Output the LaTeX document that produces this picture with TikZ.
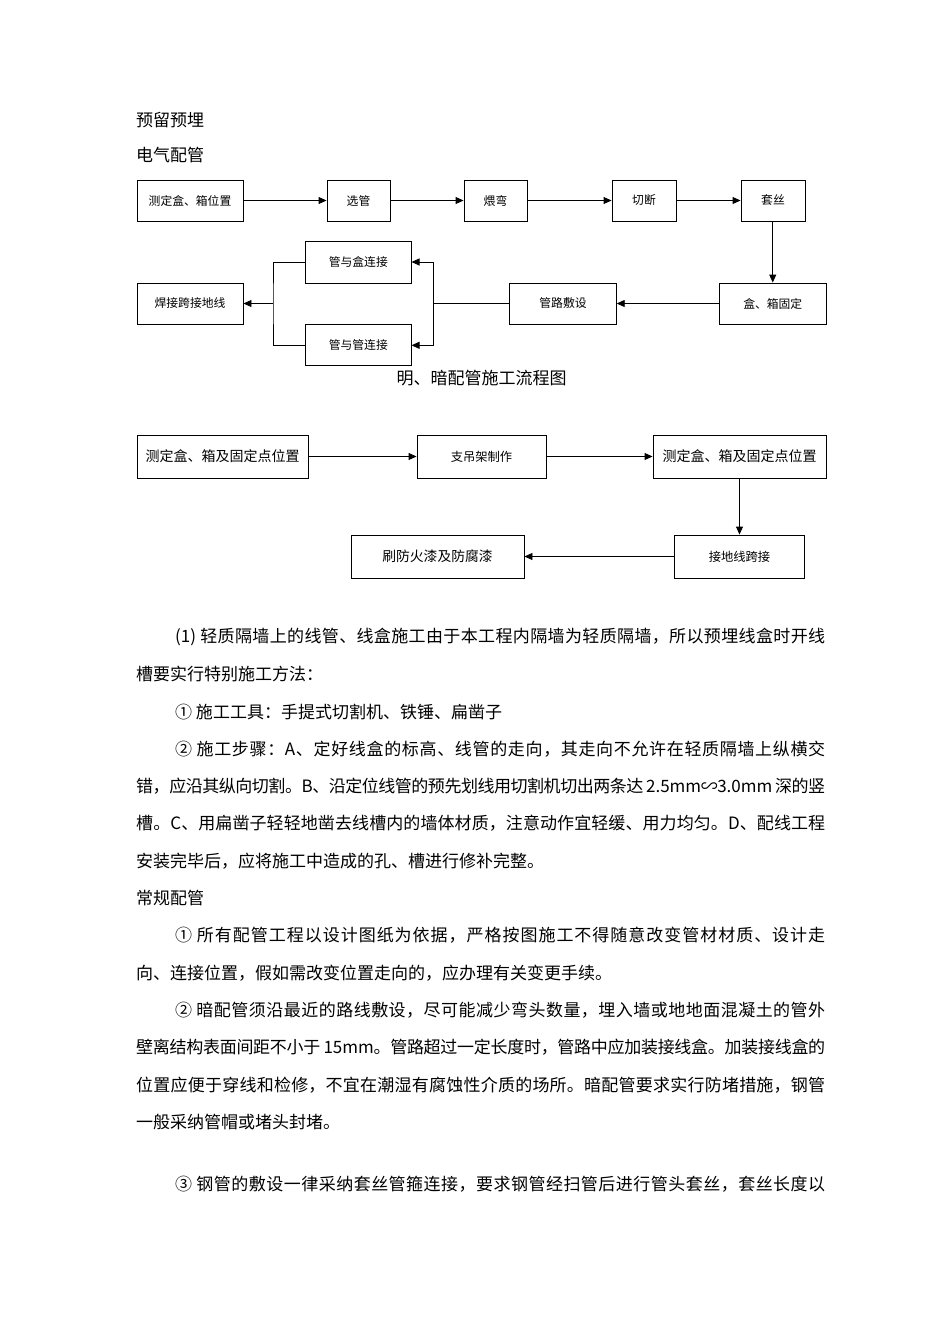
\documentclass[tikz,border=0pt]{standalone}
\usepackage{fontspec}
\setmainfont{Noto Sans CJK SC}
\usetikzlibrary{arrows.meta}
\ExplSyntaxOn
\NewDocumentCommand\spreadline{m}{
  \bool_set_true:N \l_tmpa_bool
  \tl_map_inline:nn {#1}
   {
     \bool_if:NTF \l_tmpa_bool { \bool_set_false:N \l_tmpa_bool } { \hskip 0pt plus 1fil minus 1pt \relax }
     ##1
   }
}
\ExplSyntaxOff
\tikzset{
  body/.style={anchor=west, inner sep=0pt, font=\fontsize{17}{20}\selectfont},
  fbox/.style={draw, line width=0.9pt, inner sep=0pt, minimum height=41pt, font=\fontsize{11.8}{14}\selectfont},
  gbox/.style={draw, line width=0.9pt, inner sep=0pt, minimum height=43pt},
  conn/.style={line width=0.9pt},
  arr/.style={line width=0.9pt, -{Triangle[length=8pt,width=7pt]}},
}
\begin{document}
\begin{tikzpicture}[x=1pt,y=-1pt]
\useasboundingbox[fill=white] (0,0) rectangle (950,1344);

\node[body] (h1) at (136,120) {预留预埋};
\node[body] (h2) at (136,155) {电气配管};

% chart 1
\node[fbox, minimum width=106pt] (A) at (190,200.5) {测定盒、箱位置};
\node[fbox, minimum width=63pt] (B) at (358.5,200.5) {选管};
\node[fbox, minimum width=63pt] (C) at (495.5,200.5) {煨弯};
\node[fbox, minimum width=64pt] (D) at (644,200.5) {切断};
\node[fbox, minimum width=64pt] (E) at (773,200.5) {套丝};
\node[fbox, minimum width=106.5pt] (F) at (772.75,303.5) {盒、箱固定};
\node[fbox, minimum width=106.5pt] (G) at (563,303.5) {管路敷设};
\node[fbox, minimum width=105.5pt, minimum height=42pt] (H) at (358.3,262) {管与盒连接};
\node[fbox, minimum width=105.5pt] (I) at (358.3,345.3) {管与管连接};
\node[fbox, minimum width=106pt] (J) at (190,303.5) {焊接跨接地线};
\coordinate (jr) at (433,303.5);
\coordinate (jl) at (273,303.5);

\draw[arr] (A) -- (B);
\draw[arr] (B) -- (C);
\draw[arr] (C) -- (D);
\draw[arr] (D) -- (E);
\draw[arr] (E.south -| F.north) -- (F.north);
\draw[arr] (F) -- (G);
\draw[conn] (G.west) -- (jr);
\draw[arr] (jr) |- (H.east);
\draw[arr] (jr) |- (I.east);
\draw[conn] (H.west) -| (jl) |- (I.west);
\draw[arr] (jl) -- (J.east);

\node[inner sep=0pt, font=\fontsize{17}{20}\selectfont] (cap) at (481.5,378) {明、暗配管施工流程图};

% chart 2
\node[gbox, minimum width=171pt, font=\fontsize{14}{16}\selectfont] (K) at (222.5,456.5) {测定盒、箱及固定点位置};
\node[gbox, minimum width=129pt, font=\fontsize{12.3}{15}\selectfont] (L) at (481.5,456.5) {支吊架制作};
\node[gbox, minimum width=173pt, font=\fontsize{14}{16}\selectfont] (M) at (739.5,456.5) {测定盒、箱及固定点位置};
\node[gbox, minimum width=130pt, font=\fontsize{12.3}{15}\selectfont] (N) at (739.5,556.5) {接地线跨接};
\node[gbox, minimum width=173pt, font=\fontsize{13.8}{16}\selectfont] (O) at (437.5,556.5) {刷防火漆及防腐漆};
\draw[arr] (K) -- (L);
\draw[arr] (L) -- (M);
\draw[arr] (M) -- (N);
\draw[arr] (N) -- (O);

% body text
\node[body] (t1) at (175,637) {\makebox[650pt][s]{\spreadline{{(1)\ }轻质隔墙上的线管、线盒施工由于本工程内隔墙为轻质隔墙，所以预埋线盒时开线}}};
\node[body] (t2) at (136,674.3) {槽要实行特别施工方法：};
\node[body] (t3) at (175,711.6) {①\ 施工工具：手提式切割机、铁锤、扁凿子};
\node[body] (t4) at (175,749) {\makebox[650pt][s]{\spreadline{{②\ }施工步骤：{A}、定好线盒的标高、线管的走向，其走向不允许在轻质隔墙上纵横交}}};
\node[body] (t5) at (136,786.3) {\makebox[689pt][s]{\spreadline{错，应沿其纵向切割。{B}、沿定位线管的预先划线用切割机切出两条达{\ 2.5mm}∽{3.0mm\ }深的竖}}};
\node[body] (t6) at (136,823.6) {\makebox[689pt][s]{\spreadline{槽。{C}、用扁凿子轻轻地凿去线槽内的墙体材质，注意动作宜轻缓、用力均匀。{D}、配线工程}}};
\node[body] (t7) at (136,861) {安装完毕后，应将施工中造成的孔、槽进行修补完整。};
\node[body] (t8) at (136,898) {常规配管};
\node[body] (t9) at (175,935.5) {\makebox[650pt][s]{\spreadline{{①\ }所有配管工程以设计图纸为依据，严格按图施工不得随意改变管材材质、设计走}}};
\node[body] (t10) at (136,972.8) {向、连接位置，假如需改变位置走向的，应办理有关变更手续。};
\node[body] (t11) at (175,1010) {\makebox[650pt][s]{\spreadline{{②\ }暗配管须沿最近的路线敷设，尽可能减少弯头数量，埋入墙或地地面混凝土的管外}}};
\node[body] (t12) at (136,1047.4) {\makebox[689pt][s]{\spreadline{壁离结构表面间距不小于{\ 15mm}。管路超过一定长度时，管路中应加装接线盒。加装接线盒的}}};
\node[body] (t13) at (136,1084.7) {\makebox[689pt][s]{\spreadline{位置应便于穿线和检修，不宜在潮湿有腐蚀性介质的场所。暗配管要求实行防堵措施，钢管}}};
\node[body] (t14) at (136,1122) {一般采纳管帽或堵头封堵。};
\node[body] (t15) at (175,1184) {\makebox[650pt][s]{\spreadline{{③\ }钢管的敷设一律采纳套丝管箍连接，要求钢管经扫管后进行管头套丝，套丝长度以}}};
\end{tikzpicture}
\end{document}
